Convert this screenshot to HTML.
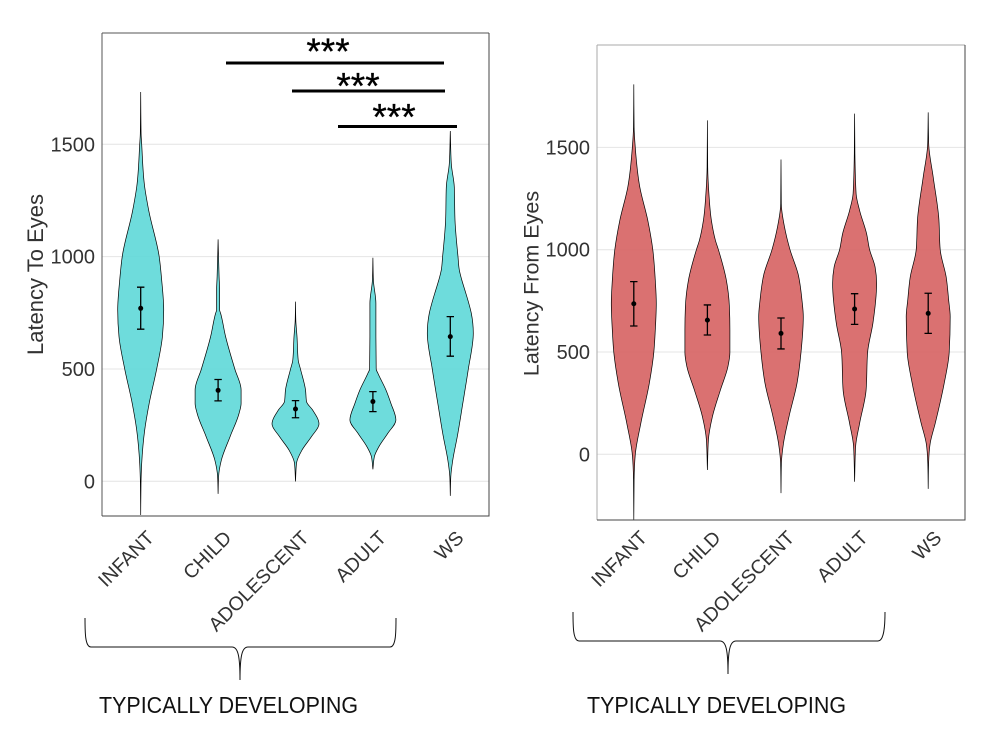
<!DOCTYPE html>
<html>
<head>
<meta charset="utf-8">
<title>Latency violin plots</title>
<style>
html,body{margin:0;padding:0;background:#fff;}
svg{display:block;font-family:"Liberation Sans",sans-serif;}
</style>
</head>
<body>
<svg id="chart" width="993" height="736" viewBox="0 0 993 736" xmlns="http://www.w3.org/2000/svg">
  <defs>
    <clipPath id="clip-left"><rect x="102" y="33" width="387" height="483"/></clipPath>
    <clipPath id="clip-right"><rect x="597" y="45" width="368" height="475"/></clipPath>
  </defs>
  <g id="left-panel"></g>
  <g id="right-panel"></g>

  <g>
    <line x1="226" x2="444" y1="63" y2="63" stroke="#000" stroke-width="3"/>
    <line x1="292" x2="445" y1="91" y2="91" stroke="#000" stroke-width="3"/>
    <line x1="338" x2="457" y1="126.500" y2="126.500" stroke="#000" stroke-width="3"/>
    <text x="328" y="64" font-size="37" text-anchor="middle" fill="#000" stroke="#000" stroke-width="0.3">***</text>
    <text x="358" y="98.500" font-size="37" text-anchor="middle" fill="#000" stroke="#000" stroke-width="0.3">***</text>
    <text x="394" y="129.500" font-size="37" text-anchor="middle" fill="#000" stroke="#000" stroke-width="0.3">***</text>
  </g>

  <path fill="none" stroke="#111" stroke-width="1" d="M85 618 C85 632 85 647 91 647 L232 647 C238 647 240 656 240 680 C240 656 242 647 248 647 L390 647 C396 647 396 632 396 618"/>
  <path fill="none" stroke="#111" stroke-width="1" d="M573 612 C573 626 573 641 579 641 L720 641 C726 641 728 650 728 674 C728 650 730 641 736 641 L878 641 C884 641 885 626 885 612"/>
  <text x="99" y="713" font-size="23" textLength="259" lengthAdjust="spacingAndGlyphs" fill="#111">TYPICALLY DEVELOPING</text>
  <text x="587" y="713" font-size="23" textLength="259" lengthAdjust="spacingAndGlyphs" fill="#111">TYPICALLY DEVELOPING</text>
</svg>
<script>
// ---- shared data ----
const categories = ["INFANT", "CHILD", "ADOLESCENT", "ADULT", "WS"];
const yTicks = [0, 500, 1000, 1500];

// ---- Latency To Eyes: outline values and relative density per group ----
const toEyesOutlineValues = [
  [1733,1547,1500,1310,1206,1000,895,763,644,500,347,228,80,-9,-150],
  [1077,910,852,763,748,644,500,407,347,303,199,95,21,-56],
  [800,718,644,540,499,407,355,318,255,199,139,80,-1],
  [995,895,792,644,499,481,407,347,273,214,154,110,53],
  [1559,1414,1310,1162,1000,941,896,852,800,748,659,499,347,199,95,21,-65]
];
const toEyesDensity = [
  [0,0.4,1,4,8,18.500,21,23,21.700,16,8.500,4,1,0.3,0],
  [0,1,1.5,1.5,2.5,7.5,16.700,23,23,21,12,3.3,0.5,0],
  [0,0.3,1.5,2.7,5,10,11,17,23.500,16,6.5,1,0],
  [0,0.5,3,3,3.3,5,13,18,23,15,6,1.5,0],
  [0,1,4,4.7,7.7,9,11.500,14.500,18,21,23,18,12.5,7,2.5,0.5,0]
];
const toEyesMean = [770, 405, 322, 355, 644];
const toEyesUpper = [864, 453, 359, 399, 733];
const toEyesLower = [677, 358, 283, 310, 557];

// ---- Latency From Eyes: outline values and relative density per group ----
const fromEyesOutlineValues = [
  [1808,1600,1498,1306,1143,1000,850,738,608,498,347,151,0,-125,-321],
  [1632,1404,1274,1143,1046,1000,850,722,608,498,428,314,184,70,-77],
  [1441,1225,1111,1000,883,752,673,498,347,184,54,-44,-190],
  [1665,1469,1274,1192,1078,1000,915,834,640,498,314,151,37,-134],
  [1671,1518,1355,1160,1000,866,752,673,498,347,151,54,-44,-169]
];
const fromEyesDensity = [
  [0,0.3,1.5,6,14,19,21.500,22.500,21.500,20,15.500,7,1.5,0.3,0],
  [0,0.3,1.5,4,8,11,19,22,22.500,22.500,20.500,13,5,1,0],
  [0,0.3,3.5,9,17,21,22.300,20,16,8,2.5,0.4,0],
  [0,0.3,1.5,5,12,15,20.500,22,18.300,13,11.500,5,1,0],
  [0,0.5,5,10.500,12,18,20.500,22,21,16,7,2,0.4,0]
];
const fromEyesMean = [736, 656, 591, 710, 689];
const fromEyesUpper = [844, 730, 666, 785, 787];
const fromEyesLower = [627, 583, 515, 635, 591];

const SVGNS = "http://www.w3.org/2000/svg";

function make(parent, tag, attrs) {
  const el = document.createElementNS(SVGNS, tag);
  for (const k in attrs) el.setAttribute(k, attrs[k]);
  parent.appendChild(el);
  return el;
}

// Monotone cubic tangents of half-width h against pixel position t
function monotoneSlopes(t, h) {
  const n = t.length;
  const m = new Array(n).fill(0);
  const sgn = function (a) { return a < 0 ? -1 : 1; };
  for (let i = 1; i < n - 1; i++) {
    const d0 = t[i] - t[i - 1];
    const d1 = t[i + 1] - t[i];
    const s0 = (h[i] - h[i - 1]) / d0;
    const s1 = (h[i + 1] - h[i]) / d1;
    const p = (s0 * d1 + s1 * d0) / (d0 + d1);
    m[i] = (sgn(s0) + sgn(s1)) * Math.min(Math.abs(s0), Math.abs(s1), 0.5 * Math.abs(p)) || 0;
  }
  m[0] = (h[1] - h[0]) / (t[1] - t[0]);
  m[n - 1] = (h[n - 1] - h[n - 2]) / (t[n - 1] - t[n - 2]);
  return m;
}

// Closed violin outline, mirrored around the centre cx
function violinPath(cx, t, h) {
  const m = monotoneSlopes(t, h);
  let d = "M" + (cx + h[0]).toFixed(2) + " " + t[0].toFixed(2);
  for (let i = 0; i < t.length - 1; i++) {
    const dt = (t[i + 1] - t[i]) / 3;
    d += "C" + (cx + h[i] + m[i] * dt).toFixed(2) + " " + (t[i] + dt).toFixed(2) + " " +
         (cx + h[i + 1] - m[i + 1] * dt).toFixed(2) + " " + (t[i + 1] - dt).toFixed(2) + " " +
         (cx + h[i + 1]).toFixed(2) + " " + t[i + 1].toFixed(2);
  }
  for (let i = t.length - 1; i > 0; i--) {
    const dt = (t[i] - t[i - 1]) / 3;
    d += "C" + (cx - h[i] + m[i] * dt).toFixed(2) + " " + (t[i] - dt).toFixed(2) + " " +
         (cx - h[i - 1] - m[i - 1] * dt).toFixed(2) + " " + (t[i - 1] + dt).toFixed(2) + " " +
         (cx - h[i - 1]).toFixed(2) + " " + t[i - 1].toFixed(2);
  }
  return d + "Z";
}

function drawPanel(cfg) {
  const g = document.getElementById(cfg.group);
  const x = function (i) { return cfg.left + (i + 0.5) * (cfg.right - cfg.left) / categories.length; };
  const y = function (v) { return cfg.zeroY - v * cfg.pxPerUnit; };

  // gridlines and y ticks
  yTicks.forEach(function (t) {
    const grid = make(g, "line", {x1: cfg.left, x2: cfg.right, y1: y(t), y2: y(t), stroke: "#e4e4e4", "stroke-width": 1});
    
    
    const tick = make(g, "text", {x: cfg.left - 7, y: y(t) + 7, "font-size": 20, "text-anchor": "end", fill: "#333"});
    
    
    tick.textContent = t;
  });

  // violins
  const marks = make(g, "g", {"clip-path": "url(#" + cfg.clip + ")"});
  
  
  categories.forEach(function (cat, i) {
    const cx = x(i);
    const t = cfg.values[i].map(y);
    const violin = make(marks, "path", {d: violinPath(cx, t, cfg.density[i]), fill: cfg.fill, "fill-opacity": 0.93, stroke: "#000", "stroke-width": 0.7});
    
    

    const err = make(marks, "path", {
      d: "M" + (cx - 3.7) + " " + y(cfg.upper[i]) + "H" + (cx + 3.7) +
         "M" + cx + " " + y(cfg.upper[i]) + "V" + y(cfg.lower[i]) +
         "M" + (cx - 3.7) + " " + y(cfg.lower[i]) + "H" + (cx + 3.7),
      fill: "none", stroke: "#000", "stroke-width": 1.3
    });
    
    

    const dot = make(marks, "circle", {cx: cx, cy: y(cfg.mean[i]), r: 2.5, fill: "#000"});
    
    

    const label = make(g, "text", {
      x: cx + 14.5, y: cfg.labelY, "font-size": 19.5, "text-anchor": "end", fill: "#333",
      transform: "rotate(-45 " + (cx + 14.5) + " " + cfg.labelY + ")"
    });
    
    
    label.textContent = cat;
  });

  // panel border
  make(g, "path", {d: "M" + cfg.left + " " + cfg.top + "H" + cfg.right, stroke: cfg.topLeftBorder, "stroke-width": 1, fill: "none"});
  make(g, "path", {d: "M" + cfg.left + " " + cfg.top + "V" + cfg.bottom, stroke: cfg.topLeftBorder, "stroke-width": 1, fill: "none"});
  const border = make(g, "path", {d: "M" + cfg.right + " " + cfg.top + "V" + cfg.bottom + "H" + cfg.left, stroke: "#444", "stroke-width": 1, fill: "none"});
  
  

  // axis title
  const title = make(g, "text", {
    x: cfg.titleX, y: cfg.titleY, "font-size": cfg.titleSize, "text-anchor": "middle", fill: "#333",
    transform: "rotate(-90 " + cfg.titleX + " " + cfg.titleY + ")"
  });
  
  
  title.textContent = cfg.title;
}

drawPanel({
  group: "left-panel", clip: "clip-left", title: "Latency To Eyes",
  left: 102, right: 489, top: 33, bottom: 516,
  zeroY: 481.3, pxPerUnit: 0.22466,
  values: toEyesOutlineValues, density: toEyesDensity,
  mean: toEyesMean, upper: toEyesUpper, lower: toEyesLower,
  fill: "#63d9d9", topLeftBorder: "#555",
  labelY: 539, titleX: 43, titleY: 274.5, titleSize: 22
});

drawPanel({
  group: "right-panel", clip: "clip-right", title: "Latency From Eyes",
  left: 597, right: 965, top: 45, bottom: 520,
  zeroY: 454.3, pxPerUnit: 0.2046,
  values: fromEyesOutlineValues, density: fromEyesDensity,
  mean: fromEyesMean, upper: fromEyesUpper, lower: fromEyesLower,
  fill: "#d76666", topLeftBorder: "#aaa",
  labelY: 539, titleX: 538.5, titleY: 283.5, titleSize: 21.5
});
</script>
</body>
</html>
